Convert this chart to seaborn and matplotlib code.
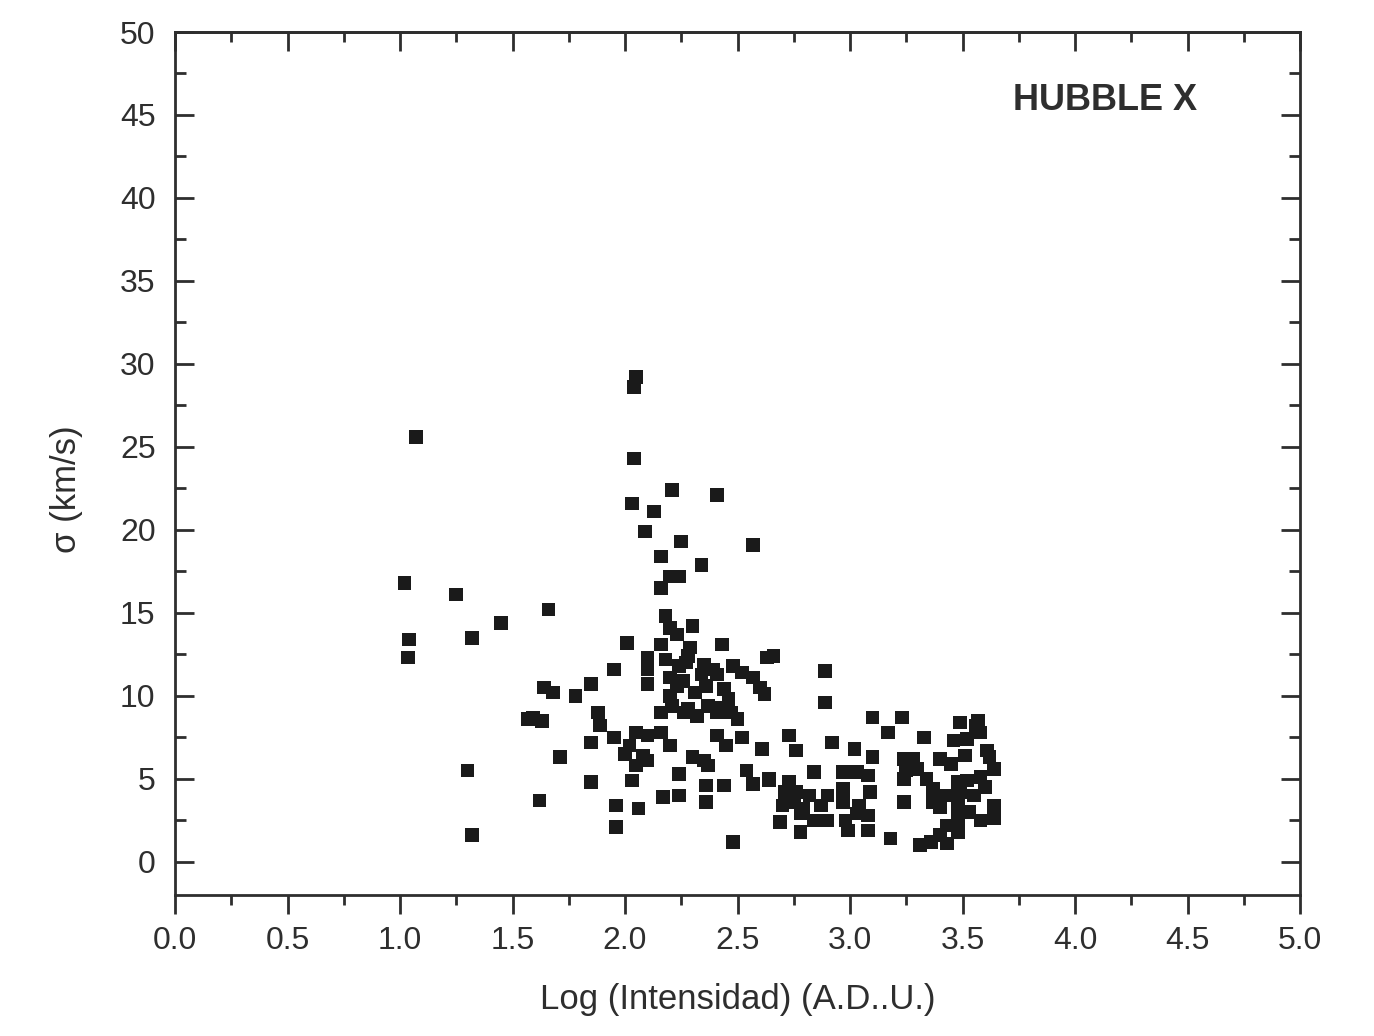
import matplotlib
matplotlib.use('Agg')
import matplotlib.pyplot as plt
import seaborn as sns
import pandas as pd
from matplotlib.ticker import MultipleLocator

# log intensity (A.D.U.) and velocity dispersion sigma (km/s)
log_int = [
    1.07, 1.02, 1.04, 1.035, 1.25, 1.32, 1.45, 1.66, 1.30, 1.32,
    1.57, 1.63, 1.59, 1.64, 1.68, 1.78, 1.85, 1.88, 1.89, 1.62,
    1.71, 1.85, 1.95, 2.01, 1.85, 1.95, 2.00, 1.96, 1.96,
    2.05, 2.04, 2.04, 2.03, 2.21, 2.41, 2.13, 2.09, 2.25, 2.57,
    2.16, 2.34, 2.20, 2.24, 2.16, 2.18, 2.20, 2.23, 2.30, 2.16,
    2.29, 2.43, 2.63, 2.66, 2.10, 2.18, 2.10, 2.10, 2.28, 2.24,
    2.35, 2.39, 2.48, 2.52, 2.57, 2.60, 2.62, 2.20, 2.23, 2.20,
    2.34, 2.36, 2.41, 2.44, 2.46, 2.28, 2.32, 2.37, 2.43, 2.50,
    2.21, 2.16, 2.26, 2.41, 2.47, 2.41, 2.45, 2.52, 2.61, 2.05,
    2.10, 2.16, 2.20, 2.02, 2.08, 2.05, 2.10, 2.30, 2.35, 2.37,
    2.24, 2.03, 2.54, 2.57, 2.64, 2.17, 2.24, 2.36, 2.36, 2.44, 2.06, 2.48,
    2.89, 2.89, 3.10, 3.23, 3.17, 2.73, 2.76, 2.92, 3.02, 3.10,
    2.84, 2.97, 3.03, 3.08, 2.64, 2.73, 2.71, 2.76, 2.82, 2.90, 2.97, 3.09,
    2.70, 2.75, 2.79, 2.87, 2.97, 3.04, 2.69, 2.78, 2.84, 2.90, 2.98, 3.03,
    3.08, 2.78, 2.99, 3.08, 3.18,
    3.24, 3.24, 3.24, 3.33, 3.49, 3.57, 3.46, 3.52, 3.58, 3.40, 3.61, 3.64,
    3.28, 3.25, 3.30, 3.34, 3.37,
    3.48, 3.52, 3.58, 3.37, 3.43, 3.49, 3.55, 3.64, 3.40, 3.48, 3.53, 3.58,
    3.64, 3.48, 3.43, 3.48, 3.40, 3.36, 3.31, 3.43, 3.56, 3.62,
    2.26, 2.31, 2.27, 3.45, 3.51, 3.60,
]
sigma = [
    25.6, 16.8, 13.4, 12.3, 16.1, 13.5, 14.4, 15.2, 5.5, 1.6,
    8.6, 8.5, 8.7, 10.5, 10.2, 10.0, 10.7, 9.0, 8.2, 3.7,
    6.3, 4.8, 11.6, 13.2, 7.2, 7.5, 6.5, 3.4, 2.1,
    29.2, 28.6, 24.3, 21.6, 22.4, 22.1, 21.1, 19.9, 19.3, 19.1,
    18.4, 17.9, 17.2, 17.2, 16.5, 14.8, 14.1, 13.7, 14.2, 13.1,
    12.9, 13.1, 12.3, 12.4, 12.3, 12.2, 11.6, 10.7, 12.4, 11.8,
    11.9, 11.6, 11.8, 11.4, 11.1, 10.5, 10.1, 11.1, 10.6, 10.0,
    11.3, 10.6, 11.3, 10.4, 9.8, 9.2, 8.8, 9.4, 9.3, 8.6,
    9.4, 9.0, 9.0, 9.0, 9.0, 7.6, 7.0, 7.5, 6.8, 7.8,
    7.6, 7.8, 7.0, 7.0, 6.4, 5.8, 6.1, 6.3, 6.1, 5.8,
    5.3, 4.9, 5.5, 4.7, 5.0, 3.9, 4.0, 4.6, 3.6, 4.6, 3.2, 1.2,
    11.5, 9.6, 8.7, 8.7, 7.8, 7.6, 6.7, 7.2, 6.8, 6.3,
    5.4, 5.4, 5.4, 5.2, 4.9, 4.8, 4.2, 4.2, 4.0, 4.0, 4.4, 4.2,
    3.4, 3.6, 3.2, 3.4, 3.6, 3.4, 2.4, 2.9, 2.5, 2.5, 2.5, 2.9,
    2.8, 1.8, 1.9, 1.9, 1.4,
    6.2, 5.0, 3.6, 7.5, 8.4, 8.5, 7.3, 7.4, 7.8, 6.2, 6.7, 5.6,
    6.2, 5.5, 5.6, 5.0, 4.4,
    4.8, 4.9, 5.1, 3.6, 4.0, 4.2, 4.0, 3.4, 3.3, 3.4, 3.0, 2.5,
    2.6, 2.6, 2.2, 1.8, 1.6, 1.2, 1.0, 1.1, 8.2, 6.3,
    10.9, 10.2, 12.0, 5.9, 6.4, 4.5,
]

x_ticks = [0.0, 0.5, 1.0, 1.5, 2.0, 2.5, 3.0, 3.5, 4.0, 4.5, 5.0]
y_ticks = [0, 5, 10, 15, 20, 25, 30, 35, 40, 45, 50]

df = pd.DataFrame({'logI': log_int, 'sigma': sigma})

sns.set_style('ticks')
plt.rcParams['font.family'] = ['Liberation Sans', 'DejaVu Sans']
ink = '#2e2e2e'

fig = plt.figure(figsize=(13.74, 10.36), dpi=100)
ax = fig.add_axes([175 / 1374, 1 - 895 / 1036, 1125 / 1374, 863 / 1036])

sns.scatterplot(data=df, x='logI', y='sigma', marker='s', s=95,
                color='#1a1a1a', edgecolor='none', linewidth=0, ax=ax)

ax.set_xlim(0, 5)
ax.set_ylim(-2, 50)
ax.set_xticks(x_ticks)
ax.set_xticklabels([f'{t:.1f}' for t in x_ticks])
ax.set_yticks(y_ticks)
ax.xaxis.set_minor_locator(MultipleLocator(0.25))
ax.yaxis.set_minor_locator(MultipleLocator(2.5))

for sp in ax.spines.values():
    sp.set_visible(True)
    sp.set_linewidth(2.0)
    sp.set_color(ink)

# bottom ticks point outward, the other three sides inward
ax.tick_params(axis='x', which='both', direction='out', top=False,
               color=ink, width=2.0, labelsize=23, labelcolor=ink, pad=8)
ax.tick_params(axis='x', which='major', length=14)
ax.tick_params(axis='x', which='minor', length=7)
ax.tick_params(axis='y', which='both', direction='in', left=True, right=True,
               color=ink, width=2.0, labelsize=23, labelcolor=ink, pad=14)
ax.tick_params(axis='y', which='major', length=14)
ax.tick_params(axis='y', which='minor', length=8)

top = ax.secondary_xaxis('top')
top.set_xticks(x_ticks)
top.xaxis.set_minor_locator(MultipleLocator(0.25))
top.tick_params(which='both', direction='in', labeltop=False, color=ink, width=2.0)
top.tick_params(which='major', length=14)
top.tick_params(which='minor', length=7)
top.spines['top'].set_linewidth(2.0)
top.spines['top'].set_color(ink)

ax.set_xlabel('Log (Intensidad) (A.D..U.)', fontsize=25, color=ink, labelpad=20)
ax.set_ylabel('σ (km/s)', fontsize=25, color=ink)
ax.yaxis.set_label_coords(-0.082, 0.47)

ax.text(0.827, 0.921, 'HUBBLE X', transform=ax.transAxes, fontsize=26,
        fontweight='bold', color=ink, ha='center', va='center')

fig.savefig('out.png', dpi=100)
